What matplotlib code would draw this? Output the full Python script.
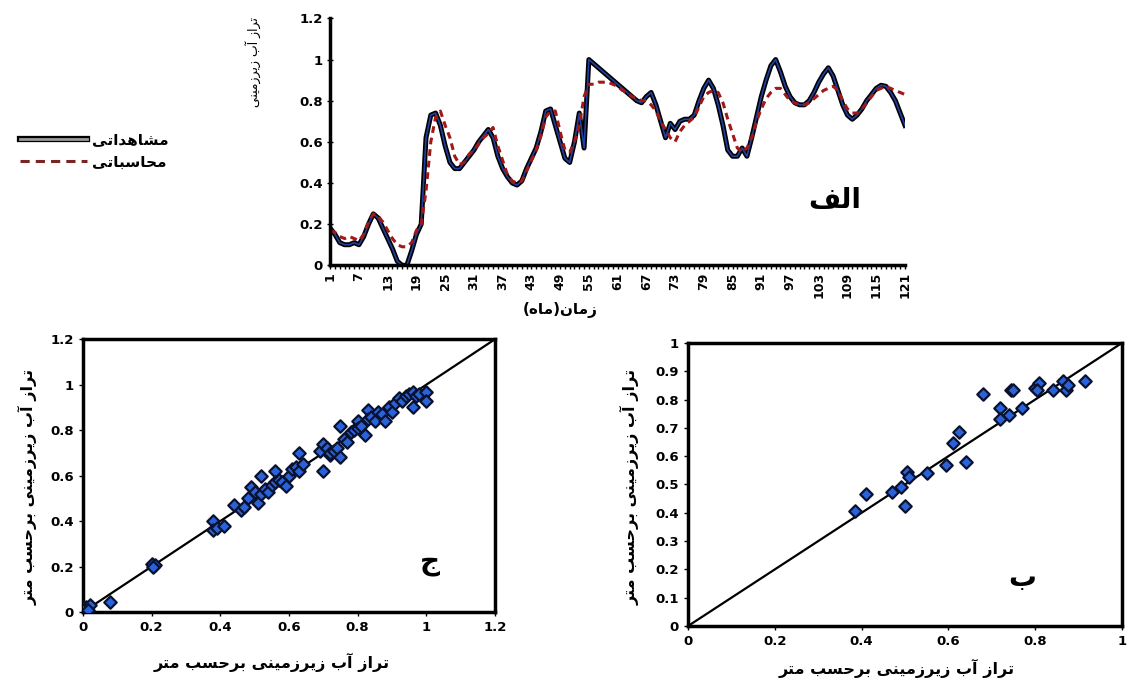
import numpy as np
import matplotlib
matplotlib.use("Agg")
import matplotlib.pyplot as plt
from matplotlib.lines import Line2D
import matplotlib.patheffects as pe

# ---- data ----
months = np.arange(1, 122)
observed = [0.18, 0.15, 0.11, 0.10, 0.10, 0.11, 0.10, 0.14, 0.20, 0.25,
            0.23, 0.18, 0.13, 0.08, 0.02, 0.00, 0.00, 0.07, 0.15, 0.20,
            0.62, 0.73, 0.74, 0.68, 0.58, 0.50, 0.47, 0.47, 0.50, 0.53,
            0.56, 0.60, 0.63, 0.66, 0.62, 0.53, 0.47, 0.43, 0.40, 0.39,
            0.41, 0.47, 0.52, 0.57, 0.65, 0.75, 0.76, 0.68, 0.60, 0.52,
            0.50, 0.60, 0.74, 0.57, 1.00, 0.98, 0.96, 0.94, 0.92, 0.90,
            0.88, 0.86, 0.84, 0.82, 0.80, 0.79, 0.82, 0.84, 0.78, 0.70,
            0.62, 0.69, 0.66, 0.70, 0.71, 0.71, 0.73, 0.80, 0.86, 0.90,
            0.86, 0.78, 0.68, 0.56, 0.53, 0.53, 0.57, 0.53, 0.62, 0.72,
            0.82, 0.90, 0.97, 1.00, 0.94, 0.87, 0.82, 0.79, 0.78, 0.78,
            0.80, 0.84, 0.89, 0.93, 0.96, 0.92, 0.85, 0.78, 0.73, 0.71,
            0.73, 0.76, 0.80, 0.83, 0.86, 0.875, 0.87, 0.84, 0.80, 0.74,
            0.68]
computed = [0.17, 0.16, 0.14, 0.13, 0.14, 0.13, 0.12, 0.15, 0.21, 0.25,
            0.24, 0.21, 0.17, 0.13, 0.10, 0.09, 0.09, 0.11, 0.17, 0.20,
            0.36, 0.60, 0.72, 0.75, 0.68, 0.62, 0.53, 0.49, 0.50, 0.54,
            0.56, 0.59, 0.62, 0.64, 0.67, 0.58, 0.51, 0.44, 0.41, 0.40,
            0.41, 0.46, 0.51, 0.56, 0.63, 0.72, 0.75, 0.75, 0.65, 0.56,
            0.55, 0.60, 0.68, 0.82, 0.88, 0.88, 0.89, 0.89, 0.89, 0.88,
            0.87, 0.85, 0.84, 0.82, 0.81, 0.80, 0.80, 0.78, 0.75, 0.70,
            0.66, 0.62, 0.60, 0.65, 0.68, 0.70, 0.72, 0.77, 0.82, 0.84,
            0.85, 0.84, 0.79, 0.71, 0.64, 0.57, 0.55, 0.57, 0.62, 0.70,
            0.76, 0.81, 0.84, 0.86, 0.86, 0.83, 0.80, 0.79, 0.78, 0.78,
            0.79, 0.81, 0.83, 0.85, 0.86, 0.87, 0.85, 0.80, 0.76, 0.74,
            0.74, 0.76, 0.79, 0.82, 0.85, 0.86, 0.87, 0.86, 0.85, 0.84,
            0.83]
month_ticks = list(range(1, 122, 6))

# panel ج (training)
train_obs = [0.00, 0.01, 0.02, 0.015, 0.08, 0.20, 0.21, 0.205, 0.38, 0.38,
             0.39, 0.41, 0.44, 0.46, 0.47, 0.48, 0.49, 0.50, 0.51, 0.52,
             0.52, 0.53, 0.54, 0.55, 0.56, 0.56, 0.57, 0.58, 0.59, 0.60,
             0.61, 0.62, 0.63, 0.63, 0.64, 0.70, 0.69, 0.70, 0.71, 0.72,
             0.72, 0.73, 0.74, 0.75, 0.75, 0.76, 0.77, 0.78, 0.79, 0.80,
             0.80, 0.81, 0.82, 0.83, 0.83, 0.84, 0.85, 0.86, 0.87, 0.88,
             0.89, 0.90, 0.91, 0.92, 0.93, 0.94, 0.95, 0.96, 0.96, 0.97,
             0.98, 1.00, 1.00]
train_sim = [0.02, 0.02, 0.03, 0.01, 0.045, 0.21, 0.205, 0.20, 0.40, 0.36,
             0.37, 0.38, 0.47, 0.45, 0.46, 0.50, 0.55, 0.53, 0.48, 0.60,
             0.52, 0.54, 0.53, 0.56, 0.62, 0.57, 0.58, 0.57, 0.555, 0.60,
             0.63, 0.64, 0.70, 0.62, 0.65, 0.62, 0.71, 0.74, 0.72, 0.69,
             0.70, 0.71, 0.72, 0.82, 0.68, 0.76, 0.75, 0.79, 0.80, 0.84,
             0.81, 0.82, 0.78, 0.89, 0.85, 0.86, 0.84, 0.88, 0.87, 0.84,
             0.90, 0.88, 0.92, 0.94, 0.93, 0.95, 0.96, 0.97, 0.90, 0.95,
             0.96, 0.97, 0.93]

# panel ب (test)
test_obs = [0.385, 0.41, 0.47, 0.49, 0.50, 0.505, 0.51, 0.55, 0.595, 0.61,
            0.625, 0.64, 0.68, 0.72, 0.72, 0.74, 0.745, 0.75, 0.77, 0.80,
            0.81, 0.805, 0.84, 0.865, 0.87, 0.875, 0.915]
test_sim = [0.405, 0.465, 0.475, 0.49, 0.425, 0.545, 0.525, 0.54, 0.57, 0.645,
            0.685, 0.58, 0.82, 0.77, 0.73, 0.745, 0.835, 0.835, 0.77, 0.84,
            0.86, 0.835, 0.835, 0.865, 0.835, 0.85, 0.865]

lbl_level = "تراز آب زیرزمینی"
lbl_level_m = "تراز آب زیرزمینی برحسب متر"
lbl_obs = "مشاهداتی"
lbl_sim = "محاسباتی"
lbl_time = "زمان(ماه)"

# ---- minimal Persian shaping (matplotlib does no Arabic joining) ----
FORMS = {  # isolated, final, initial, medial
    'ا': ('\uFE8D', '\uFE8E', None, None),
    'آ': ('\uFE81', '\uFE82', None, None),
    'د': ('\uFEA9', '\uFEAA', None, None),
    'ر': ('\uFEAD', '\uFEAE', None, None),
    'ز': ('\uFEAF', '\uFEB0', None, None),
    'ب': ('\uFE8F', '\uFE90', '\uFE91', '\uFE92'),
    'ت': ('\uFE95', '\uFE96', '\uFE97', '\uFE98'),
    'ج': ('\uFE9D', '\uFE9E', '\uFE9F', '\uFEA0'),
    'ح': ('\uFEA1', '\uFEA2', '\uFEA3', '\uFEA4'),
    'س': ('\uFEB1', '\uFEB2', '\uFEB3', '\uFEB4'),
    'ش': ('\uFEB5', '\uFEB6', '\uFEB7', '\uFEB8'),
    'ف': ('\uFED1', '\uFED2', '\uFED3', '\uFED4'),
    'ل': ('\uFEDD', '\uFEDE', '\uFEDF', '\uFEE0'),
    'م': ('\uFEE1', '\uFEE2', '\uFEE3', '\uFEE4'),
    'ن': ('\uFEE5', '\uFEE6', '\uFEE7', '\uFEE8'),
    'ه': ('\uFEE9', '\uFEEA', '\uFEEB', '\uFEEC'),
    'ی': ('\uFEEF', '\uFEF0', '\uFEF3', '\uFEF4'),
}


def fa(s):
    out = []
    for i, ch in enumerate(s):
        f = FORMS.get(ch)
        if f is None:
            out.append(ch)
            continue
        prev = s[i - 1] if i > 0 else ''
        nxt = s[i + 1] if i + 1 < len(s) else ''
        jp = prev in FORMS and FORMS[prev][2] is not None
        jn = f[2] is not None and nxt in FORMS
        if jp and jn:
            out.append(f[3])
        elif jp:
            out.append(f[1])
        elif jn:
            out.append(f[2])
        else:
            out.append(f[0])
    return ''.join(reversed(out)).translate(str.maketrans('()', ')('))


plt.rcParams['font.family'] = ['DejaVu Sans']
plt.rcParams['font.weight'] = 'bold'

fig = plt.figure(figsize=(11.27, 6.82), dpi=100)
W, H = 1127, 682


def fx(px):
    return px / W


def fy(py):
    return 1 - py / H


# ---- top panel: time series ----
ax1 = fig.add_axes([0.293, 0.611, 0.510, 0.362])
ax1.plot(months, observed, color='#2140a0', lw=1.2,
         path_effects=[pe.Stroke(linewidth=3.6, foreground='black'), pe.Normal()])
ax1.plot(months, computed, color='#a01818', lw=2.2, ls=(0, (2.2, 1.6)))
ax1.set_xlim(1, 121)
ax1.set_ylim(0, 1.2)
ax1.set_yticks(np.arange(0, 1.21, 0.2))
ax1.set_yticklabels(['0', '0.2', '0.4', '0.6', '0.8', '1', '1.2'], fontsize=9.5, fontweight='bold')
ax1.set_xticks(month_ticks)
ax1.set_xticks(months, minor=True)
ax1.set_xticklabels([str(m) for m in month_ticks], rotation=90, fontsize=9, fontweight='bold')
ax1.tick_params(axis='x', which='both', direction='out', length=3, width=1, pad=2)
ax1.tick_params(axis='y', direction='inout', length=4, width=1)
for s in ['top', 'right']:
    ax1.spines[s].set_visible(False)
for s in ['left', 'bottom']:
    ax1.spines[s].set_linewidth(2.5)

fig.text(fx(253), fy(62), fa(lbl_level), rotation=90, ha='center', va='center',
         fontsize=9, fontweight='normal')
fig.text(fx(560), fy(310), fa(lbl_time), ha='center', va='center', fontsize=11, fontweight='bold')
fig.text(fx(835), fy(200), fa("الف"), ha='center', va='center', fontsize=20, fontweight='bold')

handles = [Line2D([], [], color='#9a9a9a', lw=2,
                  path_effects=[pe.Stroke(linewidth=4.5, foreground='black'), pe.Normal()]),
           Line2D([], [], color='#7a2424', lw=2.2, ls=(0, (3, 2)))]
fig.legend(handles, [fa(lbl_obs), fa(lbl_sim)], loc='center left',
           bbox_to_anchor=(fx(6), fy(151)), frameon=False, handlelength=4.4,
           handletextpad=0.3, labelspacing=0.5, prop={'size': 11, 'weight': 'bold'})


# ---- scatter panels ----
def scatter_panel(rect, xs, ys, lim, xt, xtl, yt, ytl, tag, tag_xy, xl_xy, yl_xy):
    ax = fig.add_axes(rect)
    ax.plot(lim, lim, color='black', lw=1.6, zorder=1)
    ax.scatter(xs, ys, marker='D', s=40, facecolor='#2a62d8', edgecolor='#0a1230',
               linewidth=1.6, zorder=3)
    ax.set_xlim(lim)
    ax.set_ylim(lim)
    ax.set_xticks(xt)
    ax.set_xticklabels(xtl, fontsize=9.5, fontweight='bold')
    ax.set_yticks(yt)
    ax.set_yticklabels(ytl, fontsize=9.5, fontweight='bold')
    ax.tick_params(direction='out', length=3, width=1)
    for s in ax.spines.values():
        s.set_linewidth(2.5)
    fig.text(fx(tag_xy[0]), fy(tag_xy[1]), fa(tag), ha='center', va='center',
             fontsize=20, fontweight='bold')
    fig.text(fx(xl_xy[0]), fy(xl_xy[1]), fa(lbl_level_m), ha='center', va='center',
             fontsize=11.5, fontweight='bold')
    fig.text(fx(yl_xy[0]), fy(yl_xy[1]), fa(lbl_level_m), rotation=90, ha='center',
             va='center', fontsize=11.5, fontweight='bold')
    return ax


scatter_panel([0.0736, 0.1026, 0.3656, 0.400], train_obs, train_sim, [0, 1.2],
              np.arange(0, 1.21, 0.2), ['0', '0.2', '0.4', '0.6', '0.8', '1', '1.2'],
              np.arange(0, 1.21, 0.2), ['0', '0.2', '0.4', '0.6', '0.8', '1', '1.2'],
              "ج", (430, 562), (272, 662), (28, 487))

scatter_panel([0.6105, 0.0821, 0.385, 0.415], test_obs, test_sim, [0, 1],
              np.arange(0, 1.01, 0.2), ['0', '0.2', '0.4', '0.6', '0.8', '1'],
              np.arange(0, 1.01, 0.1), ['0', '0.1', '0.2', '0.3', '0.4', '0.5', '0.6',
                                        '0.7', '0.8', '0.9', '1'],
              "ب", (1022, 578), (897, 668), (630, 487))

fig.savefig('out.png', dpi=100)
